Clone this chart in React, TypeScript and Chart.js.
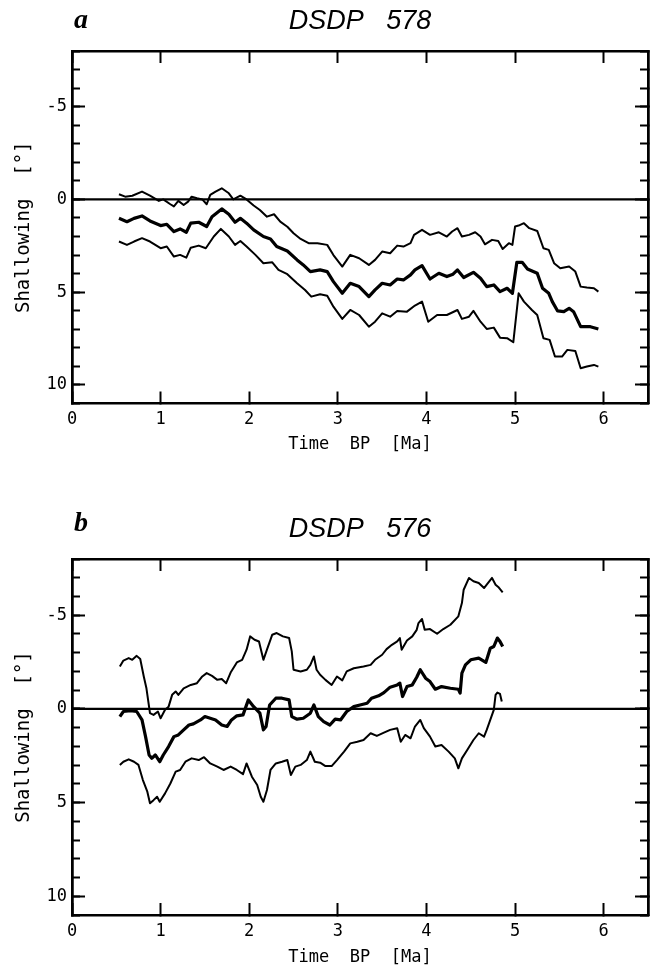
import { useEffect, useRef } from 'react';
import { Chart, registerables } from 'chart.js';

Chart.register(...registerables);

const FONT_MONO = '"DejaVu Sans Mono", monospace';

// x ticks / ranges
const xRange = [0, 6.5];
const yRange = [-8, 11];
const zeroLine: [number, number][] = [[0, 0], [6.5, 0]];

// DSDP 578 (panel a): [time Ma, shallowing deg]
const dsdp578Upper: [number, number][] = [
  [0.53, -0.28], [0.6, -0.15], [0.68, -0.2], [0.79, -0.42], [0.88, -0.2], [0.98, 0.08], [1.03, 0], [1.11, 0.26],
  [1.15, 0.38], [1.2, 0.08], [1.26, 0.3], [1.31, 0.12], [1.35, -0.15], [1.41, -0.06], [1.47, 0], [1.52, 0.26],
  [1.56, -0.24], [1.62, -0.42], [1.69, -0.6], [1.77, -0.33], [1.82, 0], [1.9, -0.2], [1.97, 0], [2.05, 0.33],
  [2.12, 0.57], [2.2, 0.93], [2.28, 0.8], [2.35, 1.2], [2.43, 1.47], [2.5, 1.82], [2.58, 2.13], [2.67, 2.36],
  [2.77, 2.36], [2.88, 2.45], [2.95, 3.0], [3.05, 3.62], [3.14, 2.99], [3.24, 3.17], [3.35, 3.53], [3.42, 3.26],
  [3.5, 2.81], [3.59, 2.9], [3.67, 2.49], [3.74, 2.54], [3.82, 2.36], [3.86, 1.91], [3.95, 1.64], [4.04, 1.91],
  [4.14, 1.77], [4.23, 2.0], [4.29, 1.73], [4.35, 1.55], [4.4, 2.0], [4.48, 1.91], [4.55, 1.77], [4.61, 2.0],
  [4.66, 2.42], [4.74, 2.18], [4.81, 2.24], [4.86, 2.67], [4.93, 2.36], [4.97, 2.45], [5.0, 1.46], [5.04, 1.41],
  [5.1, 1.28], [5.16, 1.55], [5.25, 1.7], [5.32, 2.63], [5.38, 2.72], [5.44, 3.44], [5.51, 3.71], [5.61, 3.62],
  [5.68, 3.89], [5.74, 4.7], [5.81, 4.75], [5.89, 4.79], [5.94, 4.97],
];
const dsdp578Middle: [number, number][] = [
  [0.53, 1.02], [0.62, 1.2], [0.7, 1.02], [0.79, 0.89], [0.88, 1.16], [1.0, 1.41], [1.07, 1.34], [1.15, 1.73],
  [1.22, 1.59], [1.29, 1.77], [1.34, 1.28], [1.43, 1.23], [1.52, 1.46], [1.58, 0.93], [1.69, 0.51], [1.77, 0.8],
  [1.84, 1.23], [1.9, 1.02], [1.97, 1.28], [2.05, 1.64], [2.16, 2.0], [2.24, 2.13], [2.31, 2.54], [2.43, 2.78],
  [2.54, 3.26], [2.61, 3.53], [2.69, 3.89], [2.8, 3.8], [2.88, 3.89], [2.95, 4.43], [3.05, 5.06], [3.14, 4.52],
  [3.24, 4.7], [3.35, 5.24], [3.42, 4.88], [3.5, 4.52], [3.59, 4.61], [3.67, 4.29], [3.74, 4.34], [3.82, 4.07],
  [3.87, 3.8], [3.95, 3.57], [4.04, 4.29], [4.14, 3.98], [4.23, 4.16], [4.3, 4.03], [4.35, 3.8], [4.42, 4.21],
  [4.53, 3.93], [4.61, 4.25], [4.68, 4.7], [4.76, 4.61], [4.83, 4.97], [4.91, 4.79], [4.97, 5.06], [5.02, 3.39],
  [5.08, 3.39], [5.14, 3.75], [5.25, 3.98], [5.31, 4.79], [5.38, 5.06], [5.42, 5.51], [5.48, 6.01], [5.55, 6.05],
  [5.61, 5.87], [5.66, 6.05], [5.74, 6.86], [5.85, 6.86], [5.94, 6.98],
];
const dsdp578Lower: [number, number][] = [
  [0.53, 2.27], [0.62, 2.45], [0.7, 2.27], [0.79, 2.09], [0.88, 2.27], [1.0, 2.63], [1.07, 2.54], [1.15, 3.08],
  [1.22, 2.99], [1.29, 3.14], [1.34, 2.6], [1.43, 2.49], [1.51, 2.63], [1.6, 2.0], [1.68, 1.59], [1.77, 2.0],
  [1.84, 2.45], [1.9, 2.24], [1.97, 2.54], [2.07, 2.99], [2.16, 3.44], [2.26, 3.39], [2.33, 3.8], [2.43, 4.03],
  [2.54, 4.52], [2.63, 4.88], [2.7, 5.24], [2.8, 5.11], [2.88, 5.19], [2.95, 5.78], [3.05, 6.44], [3.14, 5.96],
  [3.24, 6.23], [3.35, 6.86], [3.42, 6.59], [3.5, 6.14], [3.59, 6.32], [3.67, 6.01], [3.78, 6.05], [3.87, 5.72],
  [3.95, 5.51], [4.02, 6.59], [4.12, 6.23], [4.23, 6.23], [4.35, 5.96], [4.4, 6.44], [4.48, 6.32], [4.53, 6.01],
  [4.61, 6.59], [4.68, 6.98], [4.76, 6.91], [4.83, 7.45], [4.91, 7.48], [4.98, 7.7], [5.04, 5.06], [5.1, 5.51],
  [5.19, 5.96], [5.25, 6.23], [5.32, 7.48], [5.39, 7.57], [5.45, 8.47], [5.53, 8.47], [5.59, 8.11], [5.68, 8.17],
  [5.74, 9.1], [5.81, 9.01], [5.89, 8.92], [5.94, 9.01],
];

// DSDP 576 (panel b)
const dsdp576Upper: [number, number][] = [
  [0.54, -2.26], [0.58, -2.58], [0.64, -2.71], [0.68, -2.62], [0.73, -2.83], [0.77, -2.66], [0.81, -1.73],
  [0.84, -1.1], [0.88, 0.23], [0.92, 0.32], [0.97, 0.14], [1.0, 0.5], [1.05, 0.05], [1.09, -0.12], [1.13, -0.75],
  [1.17, -0.93], [1.2, -0.75], [1.26, -1.1], [1.34, -1.28], [1.41, -1.37], [1.47, -1.73], [1.52, -1.91],
  [1.58, -1.76], [1.64, -1.55], [1.69, -1.59], [1.74, -1.37], [1.79, -1.94], [1.82, -2.17], [1.86, -2.48],
  [1.92, -2.62], [1.97, -3.16], [2.01, -3.87], [2.06, -3.69], [2.11, -3.6], [2.16, -2.62], [2.2, -3.16],
  [2.26, -3.96], [2.31, -4.05], [2.38, -3.87], [2.45, -3.78], [2.48, -3.07], [2.5, -2.09], [2.58, -2.0],
  [2.65, -2.09], [2.69, -2.35], [2.73, -2.8], [2.76, -2.09], [2.8, -1.82], [2.86, -1.55], [2.93, -1.28],
  [2.99, -1.73], [3.05, -1.52], [3.1, -2.0], [3.18, -2.17], [3.29, -2.26], [3.37, -2.35], [3.42, -2.62],
  [3.5, -2.89], [3.55, -3.19], [3.61, -3.42], [3.67, -3.6], [3.7, -3.78], [3.72, -3.16], [3.78, -3.65],
  [3.84, -3.87], [3.89, -4.22], [3.91, -4.58], [3.95, -4.8], [3.98, -4.22], [4.04, -4.26], [4.12, -4.01],
  [4.19, -4.26], [4.27, -4.49], [4.36, -4.94], [4.4, -5.65], [4.42, -6.36], [4.48, -6.99], [4.53, -6.81],
  [4.59, -6.72], [4.65, -6.45], [4.68, -6.63], [4.74, -6.99], [4.78, -6.63], [4.81, -6.51], [4.86, -6.22],
];
const dsdp576Middle: [number, number][] = [
  [0.54, 0.41], [0.58, 0.14], [0.66, 0.09], [0.73, 0.14], [0.79, 0.59], [0.83, 1.48], [0.87, 2.46], [0.9, 2.64],
  [0.94, 2.46], [0.99, 2.82], [1.03, 2.46], [1.09, 2.01], [1.15, 1.48], [1.2, 1.39], [1.26, 1.12], [1.32, 0.86],
  [1.37, 0.8], [1.45, 0.59], [1.5, 0.41], [1.56, 0.5], [1.62, 0.59], [1.69, 0.86], [1.75, 0.94], [1.8, 0.59],
  [1.86, 0.37], [1.93, 0.32], [1.99, -0.48], [2.05, -0.12], [2.12, 0.23], [2.16, 1.12], [2.19, 0.94],
  [2.23, -0.21], [2.3, -0.57], [2.37, -0.57], [2.45, -0.48], [2.48, 0.41], [2.54, 0.55], [2.61, 0.5],
  [2.69, 0.23], [2.73, -0.21], [2.78, 0.41], [2.84, 0.68], [2.91, 0.86], [2.97, 0.55], [3.03, 0.59], [3.1, 0.14],
  [3.18, -0.12], [3.25, -0.21], [3.33, -0.3], [3.38, -0.57], [3.46, -0.7], [3.52, -0.87], [3.59, -1.16],
  [3.67, -1.28], [3.7, -1.37], [3.73, -0.66], [3.78, -1.19], [3.84, -1.28], [3.89, -1.69], [3.93, -2.09],
  [3.99, -1.64], [4.04, -1.46], [4.1, -1.05], [4.17, -1.19], [4.27, -1.1], [4.36, -1.05], [4.38, -0.84],
  [4.4, -1.91], [4.44, -2.35], [4.5, -2.62], [4.59, -2.71], [4.67, -2.48], [4.72, -3.24], [4.76, -3.33],
  [4.8, -3.78], [4.83, -3.6], [4.86, -3.33],
];
const dsdp576Lower: [number, number][] = [
  [0.54, 2.99], [0.58, 2.82], [0.64, 2.69], [0.7, 2.82], [0.75, 2.99], [0.8, 3.8], [0.85, 4.42], [0.88, 5.04],
  [0.92, 4.87], [0.96, 4.69], [0.99, 4.96], [1.05, 4.51], [1.11, 3.98], [1.17, 3.35], [1.22, 3.26], [1.28, 2.82],
  [1.35, 2.64], [1.43, 2.73], [1.49, 2.58], [1.56, 2.91], [1.64, 3.08], [1.71, 3.26], [1.79, 3.08], [1.86, 3.26],
  [1.93, 3.48], [1.97, 2.91], [2.03, 3.62], [2.09, 4.06], [2.13, 4.69], [2.16, 4.96], [2.2, 4.33], [2.24, 3.26],
  [2.3, 2.91], [2.37, 2.82], [2.43, 2.73], [2.47, 3.53], [2.52, 3.08], [2.58, 2.99], [2.65, 2.73], [2.69, 2.28],
  [2.74, 2.82], [2.8, 2.87], [2.86, 3.05], [2.93, 3.05], [2.99, 2.73], [3.07, 2.28], [3.14, 1.84], [3.22, 1.75],
  [3.29, 1.66], [3.37, 1.3], [3.44, 1.44], [3.52, 1.27], [3.59, 1.12], [3.67, 1.03], [3.71, 1.75], [3.76, 1.39],
  [3.82, 1.57], [3.87, 0.94], [3.93, 0.59], [3.97, 1.03], [4.04, 1.48], [4.1, 2.01], [4.17, 1.93], [4.25, 2.28],
  [4.32, 2.64], [4.36, 3.17], [4.4, 2.64], [4.46, 2.19], [4.53, 1.66], [4.59, 1.3], [4.65, 1.48], [4.68, 1.12],
  [4.72, 0.59], [4.76, 0.05], [4.78, -0.75], [4.8, -0.87], [4.83, -0.8], [4.85, -0.39],
];

const toXY = (arr: [number, number][]) => arr.map(([x, y]) => ({ x, y }));

type PanelProps = {
  title: string;
  upper: [number, number][];
  middle: [number, number][];
  lower: [number, number][];
  height: number;
  xAxisHeight: number;
  xTitlePad: number;
};

function Panel({ title, upper, middle, lower, height, xAxisHeight, xTitlePad }: PanelProps) {
  const ref = useRef<HTMLCanvasElement | null>(null);
  useEffect(() => {
    if (!ref.current) return;
    Chart.defaults.color = '#000';
    const line = (data: [number, number][], w: number) => ({
      data: toXY(data),
      borderColor: '#000',
      borderWidth: w,
      pointRadius: 0,
      fill: false,
      tension: 0,
      borderJoinStyle: 'round' as const,
      xAxisID: 'x',
      yAxisID: 'y',
    });
    const grid = (len: number) => ({
      drawOnChartArea: false,
      drawTicks: true,
      tickLength: -len,
      tickWidth: 2,
      tickColor: '#000',
    });
    const border = { display: true, width: 2.5, color: '#000' };
    const hidden = { display: false, stepSize: 1, includeBounds: false };
    const chart = new Chart(ref.current, {
      type: 'line',
      data: {
        datasets: [line(zeroLine, 2.2), line(upper, 2), line(middle, 3.2), line(lower, 2)],
      },
      options: {
        responsive: false,
        animation: false,
        layout: { padding: { left: 0, right: 8, top: 0, bottom: 0 } },
        plugins: {
          legend: { display: false },
          tooltip: { enabled: false },
          title: {
            display: true,
            text: title,
            fullSize: false,
            color: '#000',
            font: { family: '"Liberation Sans", sans-serif', size: 27, style: 'italic', weight: 'normal' },
            padding: { top: 5.5, bottom: 13.1 },
          },
        },
        scales: {
          x: {
            type: 'linear',
            position: 'bottom',
            min: xRange[0],
            max: xRange[1],
            ticks: {
              stepSize: 1,
              includeBounds: false,
              autoSkip: false,
              maxRotation: 0,
              padding: 18,
              color: '#000',
              font: { family: FONT_MONO, size: 17 },
            },
            grid: grid(12),
            border,
            title: {
              display: true,
              text: 'Time  BP  [Ma]',
              color: '#000',
              font: { family: FONT_MONO, size: 17 },
              padding: { top: 0, bottom: xTitlePad },
            },
            afterFit: (s: any) => { s.height = xAxisHeight; },
          },
          x2: {
            type: 'linear',
            position: 'top',
            min: xRange[0],
            max: xRange[1],
            ticks: hidden,
            grid: grid(12),
            border,
            afterFit: (s: any) => { s.height = 0; },
          },
          y: {
            type: 'linear',
            position: 'left',
            reverse: true,
            weight: 1,
            min: yRange[0],
            max: yRange[1],
            ticks: {
              stepSize: 5,
              includeBounds: false,
              padding: 18,
              color: '#000',
              font: { family: FONT_MONO, size: 17 },
            },
            grid: grid(13),
            border,
            title: {
              display: true,
              text: 'Shallowing  [°]',
              color: '#000',
              font: { family: FONT_MONO, size: 19 },
              padding: { top: 13, bottom: 0 },
            },
            afterFit: (s: any) => { s.width = 72; },
          },
          yMinor: {
            type: 'linear',
            position: 'left',
            reverse: true,
            weight: 0,
            min: yRange[0],
            max: yRange[1],
            ticks: hidden,
            grid: grid(8),
            border,
            afterFit: (s: any) => { s.width = 0; },
          },
          yRight: {
            type: 'linear',
            position: 'right',
            reverse: true,
            weight: 0,
            min: yRange[0],
            max: yRange[1],
            ticks: { display: false, stepSize: 5, includeBounds: false },
            grid: grid(13),
            border,
            afterFit: (s: any) => { s.width = 0; },
          },
          yRightMinor: {
            type: 'linear',
            position: 'right',
            reverse: true,
            weight: 1,
            min: yRange[0],
            max: yRange[1],
            ticks: hidden,
            grid: grid(8),
            border,
            afterFit: (s: any) => { s.width = 0; },
          },
        },
      } as any,
    });
    return () => chart.destroy();
  }, []);
  return <canvas ref={ref} width={656} height={height} style={{ display: 'block' }} />;
}

const letterStyle: React.CSSProperties = {
  position: 'absolute',
  left: 74,
  fontFamily: '"Liberation Serif", serif',
  fontWeight: 'bold',
  fontStyle: 'italic',
  fontSize: 28,
  lineHeight: '28px',
  color: '#000',
};

export default function App() {
  return (
    <div style={{ position: 'absolute', left: 0, top: 0, width: 656, height: 968, background: '#fff', overflow: 'hidden' }}>
      <div style={{ position: 'absolute', left: 0, top: 0 }}>
        <Panel title="DSDP   578" upper={dsdp578Upper} middle={dsdp578Middle} lower={dsdp578Lower}
          height={460} xAxisHeight={56.5} xTitlePad={4.8} />
      </div>
      <div style={{ position: 'absolute', left: 0, top: 508 }}>
        <Panel title="DSDP   576" upper={dsdp576Upper} middle={dsdp576Middle} lower={dsdp576Lower}
          height={460} xAxisHeight={53} xTitlePad={0} />
      </div>
      <span style={{ ...letterStyle, top: 5 }}>a</span>
      <span style={{ ...letterStyle, top: 508 }}>b</span>
    </div>
  );
}
